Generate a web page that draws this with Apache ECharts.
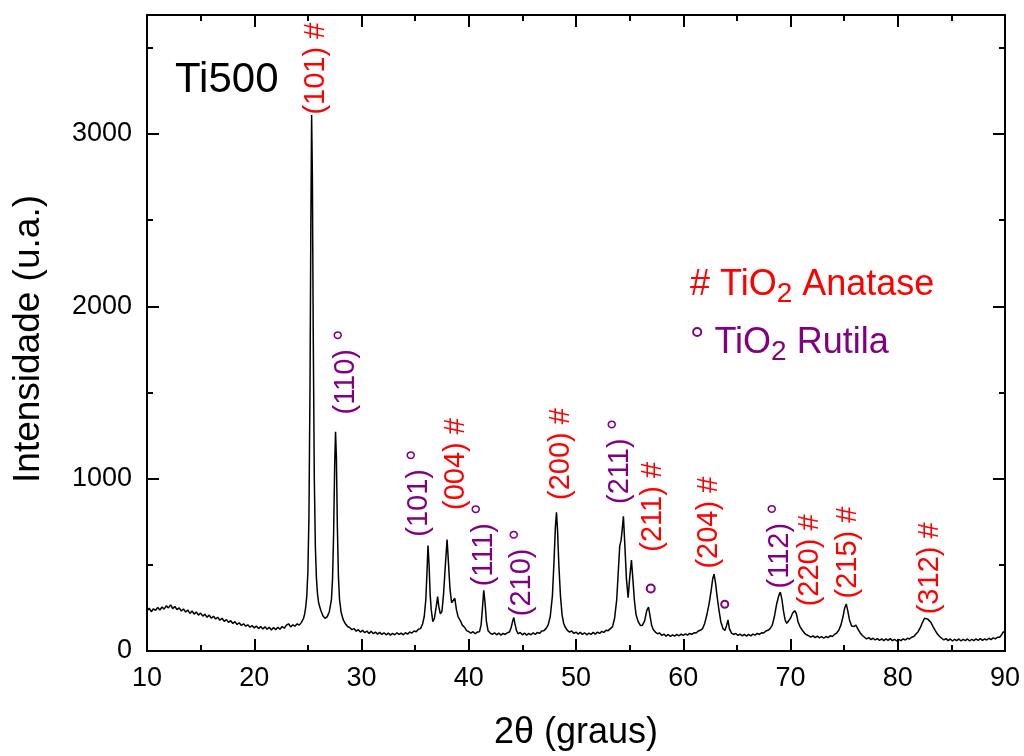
<!DOCTYPE html>
<html>
<head>
<meta charset="utf-8">
<script src="https://cdn.jsdelivr.net/npm/echarts@6/dist/echarts.min.js"></script>
<style>html,body{margin:0;padding:0;background:#fff}#c{width:1024px;height:756px}</style>
</head>
<body>
<div id="c"></div>
<script>
// XRD pattern: [2theta (deg), intensity (u.a.)]
const xrd = [
[10.0,232],[10.2,248],[10.4,228],[10.6,245],[10.8,236],[11.0,252],[11.2,238],[11.4,255],[11.6,243],[11.8,262],
[12.0,250],[12.2,268],[12.4,246],[12.6,258],[12.8,240],[13.0,250],[13.2,232],[13.4,244],[13.6,226],[13.8,238],
[14.0,218],[14.2,232],[14.4,214],[14.6,226],[14.8,208],[15.0,220],[15.2,202],[15.4,214],[15.6,196],[15.8,208],
[16.0,190],[16.2,202],[16.4,186],[16.6,196],[16.8,178],[17.0,190],[17.2,172],[17.4,182],[17.6,166],[17.8,176],
[18.0,160],[18.2,170],[18.4,154],[18.6,164],[18.8,148],[19.0,158],[19.2,144],[19.4,152],[19.6,138],[19.8,148],
[20.0,134],[20.2,145],[20.4,130],[20.6,142],[20.8,128],[21.0,140],[21.2,126],[21.4,138],[21.6,122],[21.8,136],
[22.0,124],[22.2,138],[22.4,126],[22.6,142],[22.8,132],[23.0,150],[23.2,158],[23.4,140],[23.6,152],[23.8,144],
[24.0,158],[24.2,150],[24.4,166],[24.6,190],[24.7,215],[24.8,255],[24.9,320],[25.0,460],[25.1,780],[25.2,1550],
[25.28,2500],[25.35,3110],[25.42,2750],[25.5,1850],[25.6,1000],[25.7,600],[25.8,420],[25.9,330],[26.0,280],[26.2,236],
[26.4,205],[26.6,190],[26.8,198],[27.0,228],[27.2,300],[27.3,420],[27.4,680],[27.5,1080],[27.58,1272],[27.66,1120],
[27.75,720],[27.85,430],[27.95,300],[28.1,225],[28.3,180],[28.5,158],[28.7,142],[28.9,136],[29.1,124],[29.3,130],
[29.5,115],[29.7,124],[29.9,110],[30.1,120],[30.3,106],[30.5,116],[30.7,102],[30.9,114],[31.1,100],[31.3,110],
[31.5,98],[31.7,108],[31.9,96],[32.1,106],[32.3,94],[32.5,104],[32.7,92],[32.9,102],[33.1,94],[33.3,106],
[33.5,96],[33.7,104],[33.9,94],[34.1,106],[34.3,98],[34.5,110],[34.7,104],[34.9,116],[35.1,112],[35.3,126],
[35.5,130],[35.7,158],[35.85,200],[36.0,300],[36.1,450],[36.2,612],[36.3,500],[36.4,330],[36.5,240],[36.65,170],
[36.8,190],[36.95,250],[37.1,315],[37.2,260],[37.35,215],[37.5,230],[37.65,330],[37.8,480],[37.98,647],[38.1,520],
[38.25,360],[38.4,280],[38.55,290],[38.7,306],[38.85,240],[39.0,200],[39.2,178],[39.4,150],[39.6,138],[39.8,118],
[40.0,112],[40.2,104],[40.4,112],[40.6,100],[40.8,110],[41.0,112],[41.15,150],[41.28,250],[41.4,352],[41.52,280],
[41.65,170],[41.8,118],[42.0,104],[42.2,96],[42.4,106],[42.6,94],[42.8,104],[43.0,92],[43.2,102],[43.4,96],
[43.6,106],[43.8,110],[43.95,135],[44.1,175],[44.2,194],[44.3,160],[44.45,118],[44.6,100],[44.8,108],[45.0,94],
[45.2,104],[45.4,92],[45.6,102],[45.8,94],[46.0,106],[46.2,96],[46.4,108],[46.6,102],[46.8,116],[47.0,118],
[47.2,130],[47.4,150],[47.6,200],[47.8,320],[47.95,520],[48.08,720],[48.18,805],[48.28,700],[48.4,500],[48.55,320],
[48.7,210],[48.85,160],[49.0,138],[49.2,120],[49.4,110],[49.6,116],[49.8,102],[50.0,110],[50.2,98],[50.4,108],
[50.6,96],[50.8,106],[51.0,94],[51.2,104],[51.4,96],[51.6,108],[51.8,98],[52.0,110],[52.2,102],[52.4,114],
[52.6,108],[52.8,120],[53.0,118],[53.2,130],[53.4,140],[53.6,190],[53.8,300],[53.95,470],[54.08,610],[54.2,640],
[54.3,700],[54.42,782],[54.55,620],[54.7,420],[54.86,310],[55.0,420],[55.17,528],[55.3,420],[55.45,290],[55.6,210],
[55.8,170],[56.0,148],[56.2,150],[56.4,175],[56.6,235],[56.76,254],[56.9,205],[57.05,150],[57.2,125],[57.4,110],
[57.6,100],[57.8,104],[58.0,90],[58.2,98],[58.4,86],[58.6,96],[58.8,84],[59.0,94],[59.2,86],[59.4,96],
[59.6,88],[59.8,98],[60.0,90],[60.2,100],[60.4,92],[60.6,102],[60.8,96],[61.0,106],[61.2,104],[61.4,116],
[61.6,120],[61.8,130],[62.0,160],[62.2,210],[62.4,270],[62.6,350],[62.75,420],[62.87,446],[63.0,400],[63.15,320],
[63.3,250],[63.5,170],[63.7,130],[63.9,120],[64.05,150],[64.17,180],[64.3,130],[64.5,104],[64.7,96],[64.9,102],
[65.1,90],[65.3,98],[65.5,88],[65.7,96],[65.9,86],[66.1,96],[66.3,88],[66.5,98],[66.7,92],[66.9,102],
[67.1,96],[67.3,106],[67.5,104],[67.7,116],[67.9,120],[68.1,130],[68.3,150],[68.5,200],[68.7,270],[68.9,320],
[69.05,342],[69.2,300],[69.35,230],[69.5,180],[69.65,160],[69.8,158],[70.0,190],[70.2,220],[70.4,234],[70.55,215],
[70.7,170],[70.9,140],[71.1,120],[71.3,104],[71.5,94],[71.7,88],[71.9,80],[72.1,88],[72.3,78],[72.5,86],
[72.7,76],[72.9,84],[73.1,74],[73.3,84],[73.5,78],[73.7,88],[73.9,84],[74.1,96],[74.3,104],[74.5,120],
[74.7,150],[74.9,200],[75.05,250],[75.2,273],[75.35,230],[75.5,180],[75.7,145],[75.9,142],[76.1,150],[76.3,125],
[76.5,105],[76.7,90],[76.9,80],[77.1,70],[77.3,78],[77.5,66],[77.7,74],[77.9,64],[78.1,72],[78.3,62],
[78.5,70],[78.7,60],[78.9,70],[79.1,62],[79.3,72],[79.5,60],[79.7,68],[79.9,58],[80.1,68],[80.3,60],
[80.5,70],[80.7,64],[80.9,74],[81.1,70],[81.3,80],[81.5,84],[81.7,98],[81.9,112],[82.1,135],[82.3,165],
[82.5,190],[82.66,198],[82.8,185],[82.95,182],[83.1,165],[83.3,140],[83.5,118],[83.7,98],[83.9,84],[84.1,74],
[84.3,64],[84.5,72],[84.7,60],[84.9,70],[85.1,58],[85.3,68],[85.5,60],[85.7,70],[85.9,58],[86.1,68],
[86.3,60],[86.5,70],[86.7,58],[86.9,68],[87.1,60],[87.3,70],[87.5,62],[87.7,72],[87.9,62],[88.1,70],
[88.3,64],[88.5,74],[88.7,66],[88.9,76],[89.1,70],[89.3,80],[89.5,80],[89.7,96],[89.85,112],[90.0,104]
];

// Peak annotations: text, 2theta of label, intensity where label starts, phase
const peakText  = ['(101) #','(110) °','(101) °','(004) #','(111) °','(210) °','(200) #','(211) °','(211) #','(204) #','(112) °','(220) #','(215) #','(312) #'];
const peakX     = [25.75, 28.52, 35.35, 38.80, 41.41, 44.95, 48.58, 54.08, 57.16, 62.43, 68.99, 71.79, 75.33, 82.97];
const peakY     = [3112, 1372, 663, 818, 375, 202, 876, 853, 576, 478, 363, 259, 305, 213];
const peakPhase = ['A','R','R','A','R','R','A','R','A','A','R','A','A','A'];

// Lone rutile circle markers
const rutileMarkX = [56.97, 63.87];
const rutileMarkY = [363, 271];
const rutileMarkSize = [8, 7];

const legendLines = [['# TiO','2',' Anatase','A'], ['° TiO','2',' Rutila','R']];
const phaseColor = {A:'#FF0000', R:'#800080'};

const FONT = 'Liberation Sans, Arial, Helvetica, sans-serif';
const xMin = 10, xMax = 90, yMin = 0, yMax = 3690;

const chart = echarts.init(document.getElementById('c'));

function xAx(pos, interval, len, labels) {
  return {
    type:'value', position:pos, min:xMin, max:xMax, interval:interval,
    axisLine:{show:true, onZero:false, lineStyle:{color:'#000', width:2}},
    axisTick:{show:true, inside:true, length:len, lineStyle:{color:'#000', width:2}},
    axisLabel:{show:labels, color:'#000', fontSize:27, fontFamily:FONT, margin:14},
    splitLine:{show:false}
  };
}
function yAx(pos, interval, len, labels) {
  return {
    type:'value', position:pos, min:yMin, max:yMax, interval:interval,
    axisLine:{show:true, onZero:false, lineStyle:{color:'#000', width:2}},
    axisTick:{show:true, inside:true, length:len, lineStyle:{color:'#000', width:2}},
    axisLabel:{show:labels, color:'#000', fontSize:27, fontFamily:FONT, margin:15, showMaxLabel:false,
               formatter: v => String(v)},
    splitLine:{show:false}
  };
}

const xAxes = [xAx('bottom',10,12,true), xAx('bottom',5,6,false), xAx('top',10,12,false), xAx('top',5,6,false)];
xAxes[0].name = '2θ (graus)';
xAxes[0].nameLocation = 'middle';
xAxes[0].nameGap = 64;
xAxes[0].nameTextStyle = {fontSize:36, fontFamily:FONT, color:'#000'};
const yAxes = [yAx('left',1000,12,true), yAx('left',500,6,false), yAx('right',1000,12,false), yAx('right',500,6,false)];
yAxes[0].name = 'Intensidade (u.a.)';
yAxes[0].nameLocation = 'middle';
yAxes[0].nameGap = 100;
yAxes[0].nameTextStyle = {fontSize:37, fontFamily:FONT, color:'#000', padding:[0,12,0,0]};

const labelData = peakText.map((t,i) => ({
  value:[peakX[i], peakY[i]],
  label:{formatter:t, color:phaseColor[peakPhase[i]]}
}));
const markData = rutileMarkX.map((x,i) => ({value:[x, rutileMarkY[i]], symbolSize:rutileMarkSize[i]}));

const graphics = legendLines.map((l,i) => ({
  type:'text', left:690, top:267 + i*58.5,
  style:{
    text:'{m|' + l[0] + '}{s|' + l[1] + '}{m|' + l[2] + '}',
    fill:phaseColor[l[3]],
    rich:{
      m:{fontSize:36, fontFamily:FONT, lineHeight:40, verticalAlign:'top', fill:phaseColor[l[3]]},
      s:{fontSize:28, fontFamily:FONT, lineHeight:40, verticalAlign:'top', padding:[13,0,0,0], fill:phaseColor[l[3]]}
    }
  }
}));

chart.setOption({
  animation:false,
  backgroundColor:'#fff',
  title:{text:'Ti500', left:175, top:59, padding:0,
         textStyle:{fontSize:42, fontWeight:'normal', fontFamily:FONT, color:'#000'}},
  grid:{left:147, top:15, width:858, height:640, containLabel:false},
  xAxis:xAxes,
  yAxis:yAxes,
  graphic:graphics,
  series:[
    {type:'line', data:xrd, xAxisIndex:0, yAxisIndex:0, showSymbol:false, symbol:'none',
     lineStyle:{color:'#000', width:1.5}, clip:true, z:2},
    {type:'scatter', data:labelData, xAxisIndex:0, yAxisIndex:0, symbolSize:0, z:3,
     itemStyle:{opacity:1},
     label:{show:true, position:'inside', rotate:90, align:'left', verticalAlign:'middle',
            fontSize:29, fontFamily:FONT, opacity:1}},
    {type:'scatter', data:markData, xAxisIndex:0, yAxisIndex:0, symbol:'circle', z:3,
     itemStyle:{color:'#fff', borderColor:'#800080', borderWidth:2, opacity:1}}
  ]
});
</script>
</body>
</html>
